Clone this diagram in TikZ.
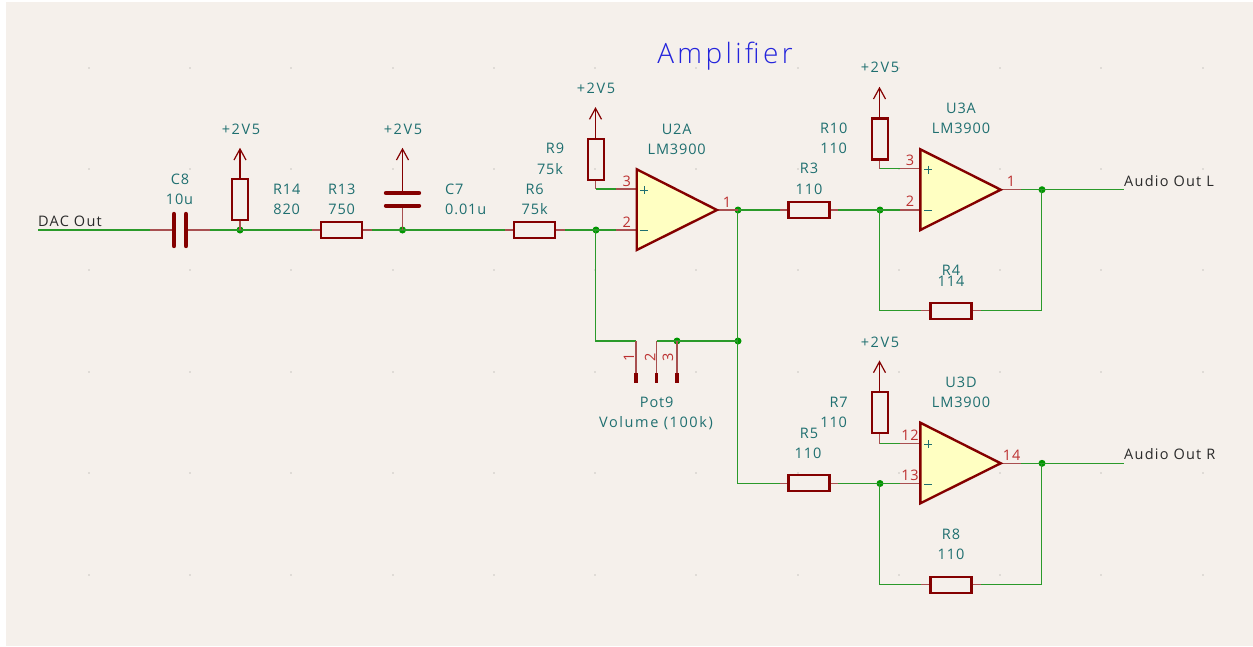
\documentclass[tikz,border=0pt]{standalone}
\usepackage{fontspec}
\setmainfont{Open Sans}[LetterSpace=6]
\newfontfamily\widefont{Open Sans}[LetterSpace=11]
\newfontfamily\netfont{Open Sans}[LetterSpace=8.5]
\newfontfamily\titlefont{Open Sans Light}[LetterSpace=12]
\definecolor{bgc}{HTML}{F5F0EB}
\definecolor{wirec}{HTML}{2A9A2A}
\definecolor{junc}{HTML}{009600}
\definecolor{symc}{HTML}{840000}
\definecolor{pinc}{HTML}{A85050}
\definecolor{fillc}{HTML}{FFFFC2}
\definecolor{valc}{HTML}{1F6F70}
\definecolor{numc}{HTML}{BC3030}
\definecolor{netc}{HTML}{2A2A2A}
\definecolor{titc}{HTML}{2424DC}
\definecolor{dotc}{HTML}{DFDBD6}
\tikzset{
 x=1pt,y=-1pt,
 wire/.style={draw=wirec,line width=1.3pt},
 pinl/.style={draw=pinc,line width=1.2pt},
 resbox/.style={draw=symc,line width=2.2pt,minimum width=41pt,minimum height=16pt,inner sep=0pt,outer sep=0pt},
 vresbox/.style={draw=symc,line width=2.2pt,minimum width=16pt,minimum height=41pt,inner sep=0pt,outer sep=0pt},
 plate/.style={draw=symc,line width=4.4pt,line cap=round},
 val/.style={text=valc,inner sep=0pt,font=\fontsize{14.5}{14.5}\selectfont},
 wval/.style={text=valc,inner sep=0pt,font=\widefont\fontsize{14.5}{14.5}\selectfont},
 pnum/.style={text=numc,inner sep=0pt,font=\fontsize{14.5}{14.5}\selectfont},
 net/.style={text=netc,inner sep=0pt,anchor=west,font=\netfont\fontsize{14.5}{14.5}\selectfont},
 jn/.style={circle,fill=junc,minimum size=7pt,inner sep=0pt},
 opamp/.style={draw=symc,line width=2.4pt,fill=fillc,line join=miter},
 griddot/.style={fill=dotc,minimum size=2pt,inner sep=0pt},
 potpin/.style={draw=symc,line width=3.2pt},
 railpin/.style={draw=symc,line width=1.2pt},
 pm/.style={draw=valc,line width=1pt},
}
\newcommand{\pwr}[3]{% x, ytop, bottom
 \draw[railpin] (#1,#3) -- (#1,#2);
 \draw[railpin] (#1-6,#2+11) -- (#1,#2) -- (#1+6,#2+11);
}
\begin{document}
\begin{tikzpicture}
\useasboundingbox (0,0) rectangle (1253,646);
\fill[white] (0,0) rectangle (1253,646);
\fill[bgc] (6,2) rectangle (1253,646);
% grid dots
\foreach \gx in {88.7,190,291.2,392.5,493.7,595,696.2,797.5,898.7,1000,1101.2,1202.5}
 \foreach \gy in {67.7,169,270.2,371.5,473,575}
  \node[griddot] at (\gx,\gy) {};
% named junctions
\coordinate (dacin) at (38,230);
\node[jn] (j1) at (240,230) {};
\node[jn] (j2) at (402.5,230) {};
\node[jn] (j3) at (596,230) {};
\node[jn] (j4) at (738,210) {};
\node[jn] (j5) at (880,210) {};
\node[jn] (j6) at (1042,189.7) {};
\node[jn] (j7) at (677,341) {};
\node[jn] (j8) at (738,341) {};
\node[jn] (j9) at (880,483.5) {};
\node[jn] (j10) at (1042,463.3) {};
\coordinate (outl) at (1124,189.7);
\coordinate (outr) at (1124,463.3);
% wires
\draw[wire] (dacin) -- (150,230);
\draw[wire] (210,230) -- (312,230);
\draw[wire] (372,230) -- (505,230);
\draw[wire] (565,230) -- (616,230);
\draw[wire] (595.5,230) -- (595.5,341) -- (636,341);
\draw[wire] (595.5,189) -- (616,189);
\draw[wire] (738,210) -- (780,210);
\draw[wire] (838,210) -- (900,210);
\draw[wire] (737.5,210) -- (737.5,483.5) -- (780,483.5);
\draw[wire] (656.5,341) -- (738,341);
\draw[wire] (838,483.5) -- (900,483.5);
\draw[wire] (879.5,168.7) -- (900,168.7);
\draw[wire] (879.5,443.7) -- (900,443.7);
\draw[wire] (879.5,210) -- (879.5,310.5) -- (921,310.5);
\draw[wire] (981,310.5) -- (1041.5,310.5) -- (1041.5,189.7);
\draw[wire] (879.5,483.5) -- (879.5,584.5) -- (921,584.5);
\draw[wire] (981,584.5) -- (1041.5,584.5) -- (1041.5,463.3);
\draw[wire] (1021,189.7) -- (outl);
\draw[wire] (1021,463.3) -- (outr);
% capacitors
\draw[pinl] (150,230) -- (174,230);
\draw[pinl] (186,230) -- (210,230);
\draw[plate] (174,214) -- (174,246);
\draw[plate] (186,214) -- (186,246);
\draw[pinl] (402.5,205.7) -- (402.5,230);
\draw[plate] (386,193) -- (419,193);
\draw[plate] (386,205.7) -- (419,205.7);
\pwr{402.5}{149}{193}
% resistors
\pwr{240}{149}{179}
\draw[pinl] (240,220) -- (240,230);
\node[vresbox] (R14) at (240.3,199.5) {};
\draw[pinl] (312,230) -- (322,230); \draw[pinl] (361,230) -- (372,230);
\node[resbox] (R13) at (341.5,230) {};
\draw[pinl] (505,230) -- (514,230); \draw[pinl] (555,230) -- (565,230);
\node[resbox] (R6) at (534.7,230) {};
\pwr{595.5}{108.3}{139}
\draw[pinl] (595.5,180) -- (595.5,189);
\node[vresbox] (R9) at (595.7,159.5) {};
\draw[pinl] (780,210) -- (788,210); \draw[pinl] (830,210) -- (838,210);
\node[resbox] (R3) at (809,210) {};
\pwr{879.5}{88}{119}
\draw[pinl] (879.5,159) -- (879.5,168.7);
\node[vresbox] (R10) at (880,139) {};
\draw[pinl] (921,310.5) -- (930,310.5); \draw[pinl] (972,310.5) -- (981,310.5);
\node[resbox] (R4) at (951,311) {};
\draw[pinl] (780,483.5) -- (788,483.5); \draw[pinl] (830,483.5) -- (838,483.5);
\node[resbox] (R5) at (809,483.3) {};
\pwr{879.5}{361.7}{392}
\draw[pinl] (879.5,432.7) -- (879.5,443.7);
\node[vresbox] (R7) at (880,412.3) {};
\draw[pinl] (921,584.5) -- (930,584.5); \draw[pinl] (972,584.5) -- (981,584.5);
\node[resbox] (R8) at (951,585) {};
% op amps
\draw[pinl] (616,189) -- (637,189); \draw[pinl] (616,230) -- (637,230); \draw[pinl] (717,210) -- (738,210);
\draw[opamp] (636.7,169.3) -- (717,210) -- (636.7,250) -- cycle;
\draw[pinl] (900,168.7) -- (920,168.7); \draw[pinl] (900,210) -- (920,210); \draw[pinl] (1001,189.7) -- (1021,189.7);
\draw[opamp] (920.3,149.3) -- (1000.7,189.7) -- (920.3,230) -- cycle;
\draw[pinl] (900,443.7) -- (920,443.7); \draw[pinl] (900,483.5) -- (920,483.5); \draw[pinl] (1001,463.3) -- (1021,463.3);
\draw[opamp] (920.3,422.7) -- (1000.7,463.3) -- (920.3,503.3) -- cycle;
% pot pins
\draw[pinl] (636,341) -- (636,373); \draw[pinl] (656.5,341) -- (656.5,373); \draw[pinl] (677,341) -- (677,373);
\draw[potpin] (636,373) -- (636,383);
\draw[potpin] (656.5,373) -- (656.5,383);
\draw[potpin] (677,373) -- (677,383);
% plus / minus
\draw[pm] (640,190) -- (648,190) (644,186) -- (644,194);
\draw[pm] (640,230) -- (648,230);
\draw[pm] (924,169.5) -- (932,169.5) (928,165.5) -- (928,173.5);
\draw[pm] (924,210) -- (932,210);
\draw[pm] (924,444) -- (932,444) (928,440) -- (928,448);
\draw[pm] (924,484) -- (932,484);
% texts
\node[wval] (t1) at (241,129) {+2V5};
\node[wval] (t2) at (403,129) {+2V5};
\node[wval] (t3) at (596,88) {+2V5};
\node[wval] (t4) at (880,67.7) {+2V5};
\node[wval] (t5) at (880,342) {+2V5};
\node[val] (t6) at (180,179) {C8};
\node[val] (t7) at (179.5,199) {10u};
\node[val] (t8) at (286.7,189) {R14};
\node[val] (t9) at (286.7,209) {820};
\node[val] (t10) at (341.7,189) {R13};
\node[val] (t11) at (341.7,209) {750};
\node[val,anchor=west] (t12) at (445,189) {C7};
\node[val,anchor=west] (t13) at (445,209) {0.01u};
\node[val] (t14) at (534.7,189) {R6};
\node[val] (t15) at (534.7,209) {75k};
\node[val] (t16) at (555,148) {R9};
\node[val] (t17) at (550,168.7) {75k};
\node[val] (t18) at (676.7,129) {U2A};
\node[val] (t19) at (676.7,149) {LM3900};
\node[val] (t20) at (961,108) {U3A};
\node[val] (t21) at (961,128) {LM3900};
\node[val] (t22) at (833.7,128) {R10};
\node[val] (t23) at (833.7,148) {110};
\node[val] (t24) at (809,168) {R3};
\node[val] (t25) at (809,189) {110};
\node[val] (t26) at (951,270.7) {R4};
\node[val] (t27) at (951,281.7) {114};
\node[val] (t28) at (961,382) {U3D};
\node[val] (t29) at (961,402) {LM3900};
\node[val] (t30) at (838.7,402) {R7};
\node[val] (t31) at (833.7,422.7) {110};
\node[val] (t32) at (809,433) {R5};
\node[val] (t33) at (808,453) {110};
\node[val] (t34) at (951,534) {R8};
\node[val] (t35) at (951,554) {110};
\node[val] (t36) at (656.7,402) {Pot9};
\node[wval] (t37) at (656,423) {Volume (100k)};
\node[net] (n1) at (38,221) {DAC Out};
\node[net] (n2) at (1124,181) {Audio Out L};
\node[net] (n3) at (1124,454) {Audio Out R};
\node[pnum] (p1) at (626.7,181) {3};
\node[pnum] (p2) at (626.7,222) {2};
\node[pnum] (p3) at (727,202) {1};
\node[pnum] (p4) at (910,160.7) {3};
\node[pnum] (p5) at (910,201.7) {2};
\node[pnum] (p6) at (1011,181.7) {1};
\node[pnum] (p7) at (910,435.7) {12};
\node[pnum] (p8) at (910,475.7) {13};
\node[pnum] (p9) at (1011.7,455) {14};
\node[pnum,rotate=90] (p10) at (629,357) {1};
\node[pnum,rotate=90] (p11) at (650,357) {2};
\node[pnum,rotate=90] (p12) at (668,357) {3};
\node[text=titc,inner sep=0pt,anchor=base,font=\titlefont\fontsize{28}{28}\selectfont] (title) at (725,63) {Amplifier};
\end{tikzpicture}
\end{document}
